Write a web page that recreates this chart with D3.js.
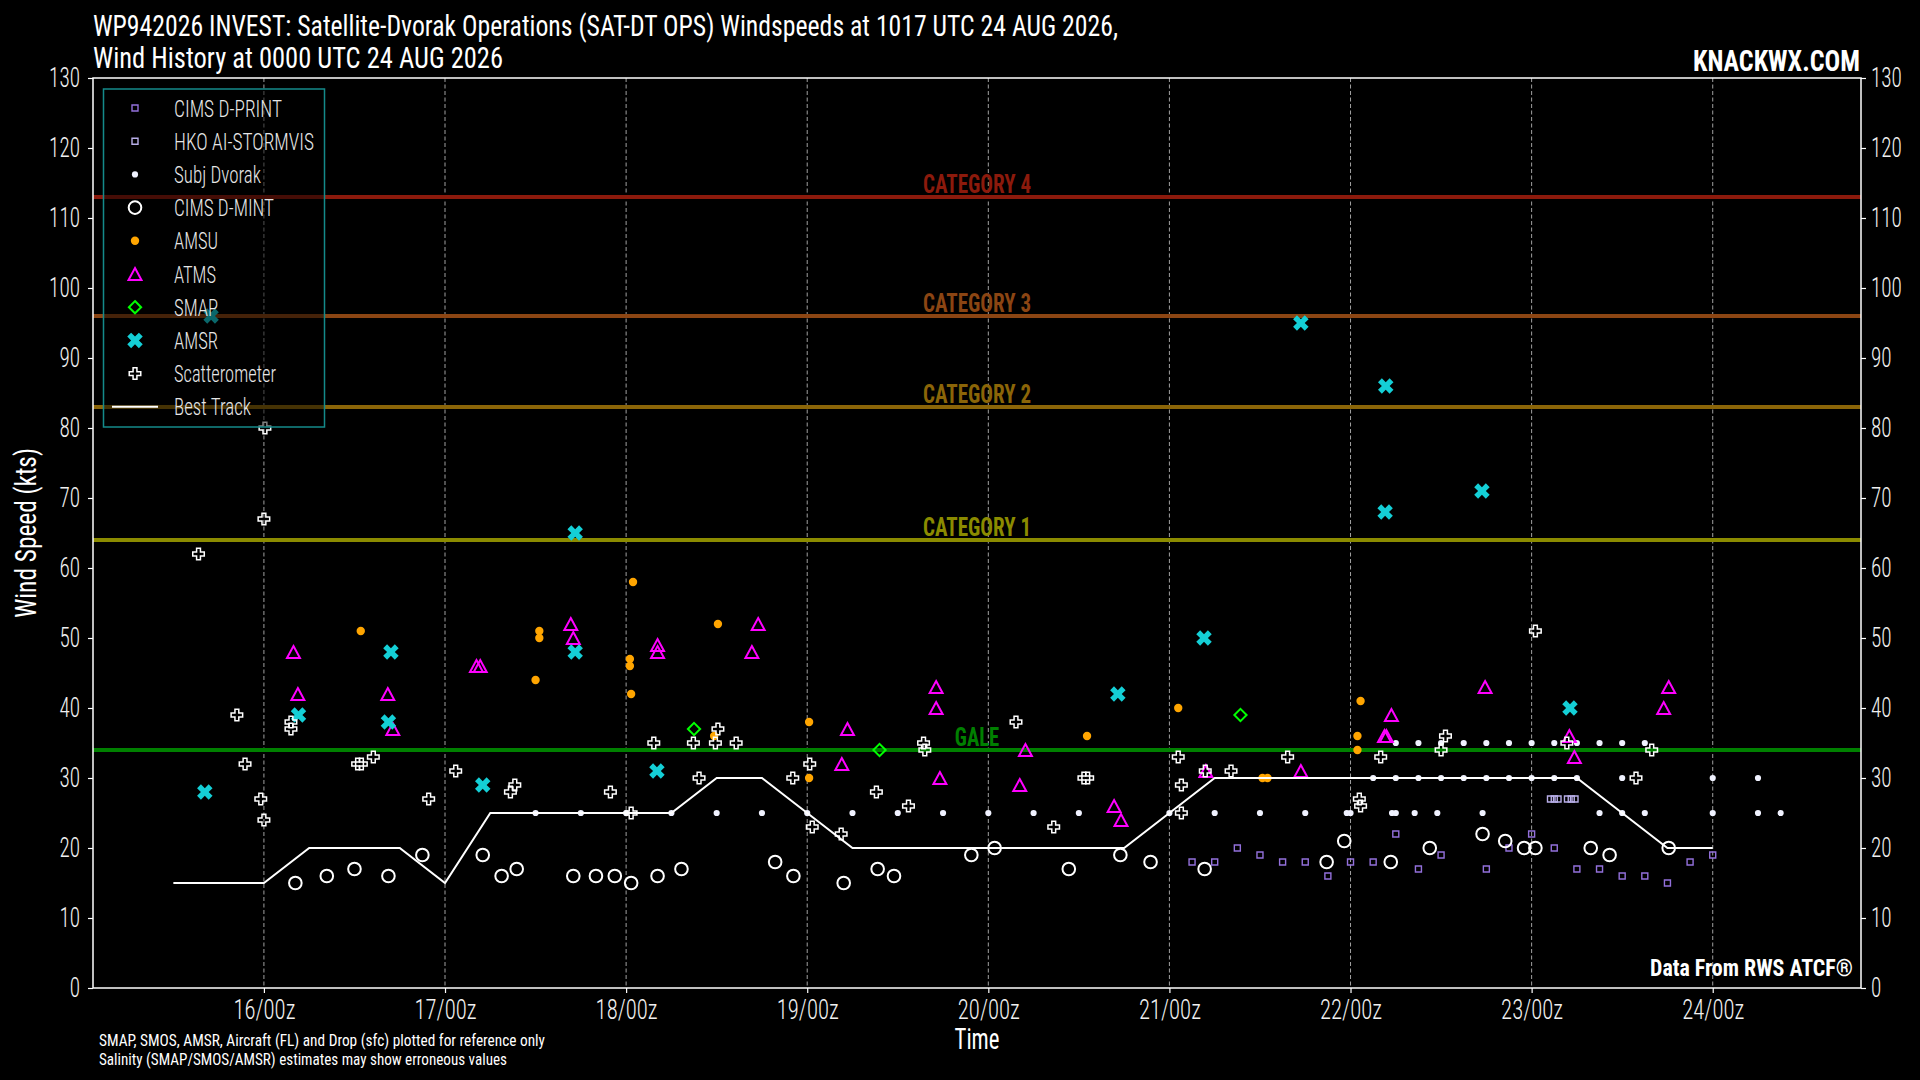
<!DOCTYPE html>
<html>
<head>
<meta charset="utf-8">
<script src="https://cdn.jsdelivr.net/npm/d3@7"></script>
<style>
  html, body { margin: 0; background: #000; }
  svg { display: block; }
  text { font-family: "Roboto Condensed", "Roboto", "Liberation Sans Narrow", "DejaVu Sans Condensed", sans-serif; }
</style>
</head>
<body>
<div id="chart"></div>
<script>
// ---- data (times are AUG 2026, UTC, "DD HH:MM") ----
const monthPrefix = "2026-08-";

const cimsDPrint = [["21 03:00",18],["21 06:00",18],["21 09:00",20],["21 12:00",19],["21 15:00",18],["21 18:00",18],["21 21:00",16],["22 00:00",18],["22 03:00",18],["22 06:00",22],["22 09:00",17],["22 12:00",19],["22 18:00",17],["22 21:00",20],["23 00:00",22],["23 03:00",20],["23 06:00",17],["23 09:00",17],["23 12:00",16],["23 15:00",16],["23 18:00",15],["23 21:00",18],["24 00:00",19]];

const hkoStormvis = [["23 02:30",27],["23 03:00",27],["23 03:30",27],["23 04:45",27],["23 05:15",27],["23 05:45",27]];

const subjDvorak = [["17 12:00",25],["17 18:00",25],["18 00:00",25],["18 06:00",25],["18 12:00",25],["18 18:00",25],["19 00:00",25],["19 06:00",25],["19 12:00",25],["19 18:00",25],["20 00:00",25],["20 06:00",25],["20 12:00",25],["21 00:00",25],["21 06:00",25],["21 12:00",25],["21 18:00",25],["21 23:30",25],["22 00:00",25],["22 03:00",30],["22 05:30",25],["22 06:00",25],["22 06:00",30],["22 06:00",35],["22 08:30",25],["22 09:00",30],["22 09:00",35],["22 11:30",25],["22 12:00",30],["22 12:00",35],["22 15:00",30],["22 15:00",35],["22 17:30",25],["22 18:00",30],["22 18:00",35],["22 21:00",30],["22 21:00",35],["23 00:00",30],["23 00:00",35],["23 03:00",30],["23 03:00",35],["23 06:00",30],["23 06:00",35],["23 09:00",25],["23 09:00",35],["23 12:00",25],["23 12:00",30],["23 12:00",35],["23 15:00",25],["23 15:00",35],["24 00:00",25],["24 00:00",30],["24 06:00",25],["24 06:00",30],["24 09:00",25]];

const cimsDMint = [["16 04:10",15],["16 08:20",16],["16 12:00",17],["16 16:30",16],["16 21:00",19],["17 05:00",19],["17 07:30",16],["17 09:30",17],["17 17:00",16],["17 20:00",16],["17 22:30",16],["18 00:40",15],["18 04:10",16],["18 07:20",17],["18 19:45",18],["18 22:10",16],["19 04:50",15],["19 09:20",17],["19 11:30",16],["19 21:45",19],["20 00:50",20],["20 10:40",17],["20 17:30",19],["20 21:30",18],["21 04:40",17],["21 20:50",18],["21 23:10",21],["22 05:20",18],["22 10:30",20],["22 17:30",22],["22 20:30",21],["22 23:00",20],["23 00:30",20],["23 07:50",20],["23 10:20",19],["23 18:10",20]];

const amsu = [["16 12:50",51],["17 12:30",51],["17 12:30",50],["17 12:00",44],["18 00:55",58],["18 00:30",47],["18 00:30",46],["18 00:40",42],["18 12:10",52],["18 11:40",36],["19 00:15",38],["19 00:15",30],["20 13:05",36],["21 01:10",40],["21 12:20",30],["21 13:00",30],["22 01:20",41],["22 00:55",36],["22 00:55",34]];

const atms = [["16 03:55",48],["16 04:30",42],["16 16:25",42],["16 17:05",37],["17 04:10",46],["17 04:40",46],["17 16:40",52],["17 17:00",50],["18 04:10",49],["18 04:10",48],["18 16:40",48],["18 17:30",52],["19 04:35",32],["19 05:20",37],["19 17:05",43],["19 17:05",40],["19 17:35",30],["20 04:10",29],["20 04:55",34],["20 16:40",26],["20 17:35",24],["21 04:50",31],["21 17:25",31],["22 04:30",36],["22 04:45",36],["22 05:25",39],["22 17:50",43],["23 05:00",36],["23 05:40",33],["23 17:30",40],["23 18:10",43]];

const smap = [["18 09:00",37],["19 09:35",34],["21 09:25",39]];

const amsr = [["15 16:10",28],["15 17:00",96],["16 04:35",39],["16 16:30",38],["16 16:50",48],["17 05:00",29],["17 17:15",65],["17 17:15",48],["18 04:05",31],["20 17:10",42],["21 04:35",50],["21 17:25",95],["22 04:40",86],["22 04:35",68],["22 17:25",71],["23 05:05",40]];

const scatterometer = [["15 15:20",62],["15 20:25",39],["15 21:30",32],["15 23:35",27],["16 00:00",24],["16 00:00",67],["16 00:08",80],["16 03:35",38],["16 03:35",37],["16 12:25",32],["16 12:55",32],["16 14:30",33],["16 21:50",27],["17 01:25",31],["17 08:40",28],["17 09:15",29],["17 21:55",28],["18 00:40",25],["18 03:40",35],["18 08:55",35],["18 09:40",30],["18 11:50",35],["18 12:10",37],["18 14:35",35],["18 22:05",30],["19 00:20",32],["19 00:40",23],["19 04:30",22],["19 09:10",28],["19 13:25",26],["19 15:25",35],["19 15:35",34],["20 03:40",38],["20 08:40",23],["20 12:40",30],["20 13:10",30],["21 01:10",33],["21 01:35",29],["21 01:35",25],["21 04:45",31],["21 08:10",31],["21 15:40",33],["22 01:10",27],["22 01:20",26],["22 04:00",33],["22 12:00",34],["22 12:35",36],["23 00:30",51],["23 04:40",35],["23 13:50",30],["23 15:55",34]];

const bestTrack = [["15 12:00",15],["15 18:00",15],["16 00:00",15],["16 06:00",20],["16 12:00",20],["16 18:00",20],["17 00:00",15],["17 06:00",25],["17 12:00",25],["17 18:00",25],["18 00:00",25],["18 06:00",25],["18 12:00",30],["18 18:00",30],["19 00:00",25],["19 06:00",20],["19 12:00",20],["19 18:00",20],["20 00:00",20],["20 06:00",20],["20 12:00",20],["20 18:00",20],["21 00:00",25],["21 06:00",30],["21 12:00",30],["21 18:00",30],["22 00:00",30],["22 06:00",30],["22 12:00",30],["22 18:00",30],["23 00:00",30],["23 06:00",30],["23 12:00",25],["23 18:00",20],["24 00:00",20]];

const categoryNames = ["CATEGORY 4", "CATEGORY 3", "CATEGORY 2", "CATEGORY 1", "GALE"];
const categoryWinds = [113, 96, 83, 64, 34];

const legendLabels = ["CIMS D-PRINT", "HKO AI-STORMVIS", "Subj Dvorak", "CIMS D-MINT", "AMSU", "ATMS", "SMAP", "AMSR", "Scatterometer", "Best Track"];

const titleLines = [
  "WP942026 INVEST: Satellite-Dvorak Operations (SAT-DT OPS) Windspeeds at 1017 UTC 24 AUG 2026,",
  "Wind History at 0000 UTC 24 AUG 2026"
];
const footnotes = [
  "SMAP, SMOS, AMSR, Aircraft (FL) and Drop (sfc) plotted for reference only",
  "Salinity (SMAP/SMOS/AMSR) estimates may show erroneous values"
];

// ---- setup ----
const width = 1920, height = 1080;
const margin = { top: 78, right: 59, bottom: 92, left: 93 };
const parseTime = d3.utcParse("%Y-%m-%d %H:%M");
const toPoints = arr => arr.map(([t, v]) => ({ t: parseTime(monthPrefix + t), v }));

// custom marker shapes (size = edge length squared)
const triangleUp = {
  draw(ctx, size) {
    const h = Math.sqrt(size), w = h * 1.08;
    ctx.moveTo(0, -h / 2); ctx.lineTo(w / 2, h / 2); ctx.lineTo(-w / 2, h / 2); ctx.closePath();
  }
};
const diamond = {
  draw(ctx, size) {
    const s = Math.sqrt(size) / 2;
    ctx.moveTo(0, -s); ctx.lineTo(s, 0); ctx.lineTo(0, s); ctx.lineTo(-s, 0); ctx.closePath();
  }
};

const markerStyles = [
  { type: d3.symbolSquare, size: 36, fill: "none", stroke: "#9370db", sw: 1.4, rot: 0 },
  { type: d3.symbolSquare, size: 36, fill: "none", stroke: "#b8aee8", sw: 1.4, rot: 0 },
  { type: d3.symbolCircle, size: 30, fill: "#f0f2ff", stroke: "none", sw: 0, rot: 0 },
  { type: d3.symbolCircle, size: 125, fill: "none", stroke: "#ffffff", sw: 2, rot: 0 },
  { type: d3.symbolCircle, size: 55, fill: "#ffa500", stroke: "none", sw: 0, rot: 0 },
  { type: triangleUp, size: 144, fill: "none", stroke: "#ff00ff", sw: 2, rot: 0 },
  { type: diamond, size: 150, fill: "none", stroke: "#00ff00", sw: 2, rot: 0 },
  { type: d3.symbolCross, size: 150, fill: "#14cfd6", stroke: "none", sw: 0, rot: 45 },
  { type: d3.symbolCross, size: 74, fill: "none", stroke: "#ffffff", sw: 1.5, rot: 0 }
];
const seriesData = [cimsDPrint, hkoStormvis, subjDvorak, cimsDMint, amsu, atms, smap, amsr, scatterometer].map(toPoints);
const trackPoints = toPoints(bestTrack);
const categoryColors = ["#8c1a0c", "#8b4513", "#8b6508", "#8b8b00", "#008000"];
const legendTextWidths = [108, 140, 87, 100, 44, 42, 44, 44, 102, 77];

const allTimes = seriesData.flat().concat(trackPoints).map(d => d.t);
const [t0, t1] = d3.extent(allTimes);
const pad = (t1 - t0) * 0.05;

const x = d3.scaleUtc()
  .domain([new Date(+t0 - pad), new Date(+t1 + pad)])
  .range([margin.left, width - margin.right]);
const y = d3.scaleLinear()
  .domain([0, 130])
  .range([height - margin.bottom, margin.top]);

const svg = d3.select("#chart").append("svg")
  .attr("width", width)
  .attr("height", height)
  .style("background", "#000");

// stretch/squeeze a text to a given width, re-anchored at its start
function fit(sel, wOf) {
  sel.each(function (d, i) {
    const t = d3.select(this);
    const w = typeof wOf === "function" ? wOf(d, i, this) : wOf;
    const anchor = getComputedStyle(this).textAnchor;
    const x0 = +(t.attr("x") || 0);
    const shift = anchor === "end" ? w : anchor === "middle" ? w / 2 : 0;
    t.attr("x", x0 - shift)
      .attr("text-anchor", "start")
      .attr("textLength", w)
      .attr("lengthAdjust", "spacingAndGlyphs");
  });
}

// vertical dashed day grid
const dayTicks = x.ticks(d3.utcDay.every(1));
svg.append("g").attr("id", "grid")
  .selectAll("line")
  .data(dayTicks)
  .join("line")
    .attr("x1", d => x(d)).attr("x2", d => x(d))
    .attr("y1", y(130)).attr("y2", y(0))
    .attr("stroke", "#a0a0a0")
    .attr("stroke-width", 1)
    .attr("stroke-dasharray", "4,2.5");

// category reference lines
const cats = svg.append("g").attr("id", "categories");
cats.selectAll("line")
  .data(categoryWinds)
  .join("line")
    .attr("x1", x.range()[0]).attr("x2", x.range()[1])
    .attr("y1", d => y(d)).attr("y2", d => y(d))
    .attr("stroke", (d, i) => categoryColors[i])
    .attr("stroke-width", 4);
cats.selectAll("text")
  .data(categoryWinds)
  .join("text")
    .attr("x", (x.range()[0] + x.range()[1]) / 2)
    .attr("y", d => y(d) - 4)
    .attr("text-anchor", "middle")
    .attr("font-size", 25)
    .attr("font-weight", "bold")
    .attr("fill", (d, i) => categoryColors[i])
    .text((d, i) => categoryNames[i])
    .call(fit, (d, i) => categoryNames[i].length * 10.6 + 2);

// markers
const marks = svg.append("g").attr("id", "marks");
seriesData.forEach((pts, i) => {
  const st = markerStyles[i];
  const path = d3.symbol(st.type, st.size)();
  marks.append("g")
    .selectAll("path")
    .data(pts)
    .join("path")
      .attr("d", path)
      .attr("transform", d => `translate(${x(d.t)},${y(d.v)}) rotate(${st.rot})`)
      .attr("fill", st.fill)
      .attr("stroke", st.stroke)
      .attr("stroke-width", st.sw);
});

// best track
svg.append("path")
  .datum(trackPoints)
  .attr("fill", "none")
  .attr("stroke", "#ffffff")
  .attr("stroke-width", 2)
  .attr("d", d3.line().x(d => x(d.t)).y(d => y(d.v)));

// frame
svg.append("rect")
  .attr("x", margin.left).attr("y", margin.top)
  .attr("width", width - margin.left - margin.right)
  .attr("height", height - margin.top - margin.bottom)
  .attr("fill", "none")
  .attr("stroke", "#ffffff")
  .attr("stroke-width", 1.5);

// axes
function styleAxis(g, size, wOf) {
  g.attr("font-family", null).attr("font-size", null);
  g.select(".domain").remove();
  g.selectAll(".tick line").attr("stroke", "#ffffff").attr("stroke-width", 1.2);
  g.selectAll(".tick text")
    .attr("fill", "#f0f0f0")
    .attr("font-weight", 300)
    .style("font-size", size + "px")
    .call(fit, wOf);
}
const yLabelWidth = (d, i, node) => node.textContent.length * 10.3;
svg.append("g")
  .attr("transform", `translate(${margin.left},0)`)
  .call(d3.axisLeft(y).ticks(13).tickSize(5).tickPadding(8).tickSizeOuter(0))
  .call(styleAxis, 28, yLabelWidth);
svg.append("g")
  .attr("transform", `translate(${width - margin.right},0)`)
  .call(d3.axisRight(y).ticks(13).tickSize(5).tickPadding(5).tickSizeOuter(0))
  .call(styleAxis, 28, yLabelWidth);
svg.append("g")
  .attr("transform", `translate(0,${height - margin.bottom})`)
  .call(d3.axisBottom(x).ticks(d3.utcDay.every(1)).tickFormat(d3.utcFormat("%d/%Hz")).tickSize(5).tickPadding(6).tickSizeOuter(0))
  .call(styleAxis, 28, 62);

// legend
const legend = svg.append("g").attr("id", "legend");
legend.append("rect")
  .attr("x", 103.5).attr("y", 89)
  .attr("width", 221).attr("height", 338)
  .attr("fill", "#000").attr("fill-opacity", 0.5)
  .attr("stroke", "#148a8a").attr("stroke-width", 1.5);
const rows = legend.selectAll("g.row")
  .data(legendLabels)
  .join("g")
    .attr("class", "row")
    .attr("transform", (d, i) => `translate(0,${108 + i * 33.2})`);
rows.each(function (d, i) {
  const row = d3.select(this);
  if (i < markerStyles.length) {
    const st = markerStyles[i];
    row.append("path")
      .attr("d", d3.symbol(st.type, st.size)())
      .attr("transform", `translate(135,0) rotate(${st.rot})`)
      .attr("fill", st.fill)
      .attr("stroke", st.stroke)
      .attr("stroke-width", st.sw);
  } else {
    row.append("line")
      .attr("x1", 112).attr("x2", 158)
      .attr("stroke", "#ffffff").attr("stroke-width", 2);
  }
});
rows.append("text")
  .attr("x", 174)
  .attr("dy", "0.36em")
  .attr("font-size", 24)
  .attr("font-weight", 300)
  .attr("fill", "#e6e6e6")
  .text(d => d)
  .call(fit, (d, i) => legendTextWidths[i]);

// titles and notes
svg.append("g").selectAll("text")
  .data(titleLines)
  .join("text")
    .attr("x", margin.left)
    .attr("y", (d, i) => 36 + i * 32)
    .attr("font-size", 29)
    .attr("fill", "#ffffff")
    .text(d => d)
    .call(fit, (d, i) => i === 0 ? 1025 : 410);

svg.append("text")
  .attr("x", 1860).attr("y", 71)
  .attr("text-anchor", "end")
  .attr("font-size", 30)
  .attr("font-weight", "bold")
  .attr("fill", "#ffffff")
  .text("KNACKWX.COM")
  .call(fit, 167);

svg.append("text")
  .attr("x", 1853).attr("y", 976)
  .attr("text-anchor", "end")
  .attr("font-size", 23)
  .attr("font-weight", "bold")
  .attr("fill", "#ffffff")
  .text("Data From RWS ATCF®")
  .call(fit, 203);

svg.append("text")
  .attr("transform", `translate(36,${(margin.top + height - margin.bottom) / 2}) rotate(-90)`)
  .attr("text-anchor", "middle")
  .attr("font-size", 30)
  .attr("fill", "#ffffff")
  .text("Wind Speed (kts)")
  .call(fit, 170);

svg.append("text")
  .attr("x", (x.range()[0] + x.range()[1]) / 2)
  .attr("y", 1049)
  .attr("text-anchor", "middle")
  .attr("font-size", 29)
  .attr("fill", "#ffffff")
  .text("Time")
  .call(fit, 45);

svg.append("g").selectAll("text")
  .data(footnotes)
  .join("text")
    .attr("x", 99)
    .attr("y", (d, i) => 1046 + i * 19)
    .attr("font-size", 17)
    .attr("fill", "#ffffff")
    .text(d => d)
    .call(fit, (d, i) => i === 0 ? 446 : 408);
</script>
</body>
</html>
